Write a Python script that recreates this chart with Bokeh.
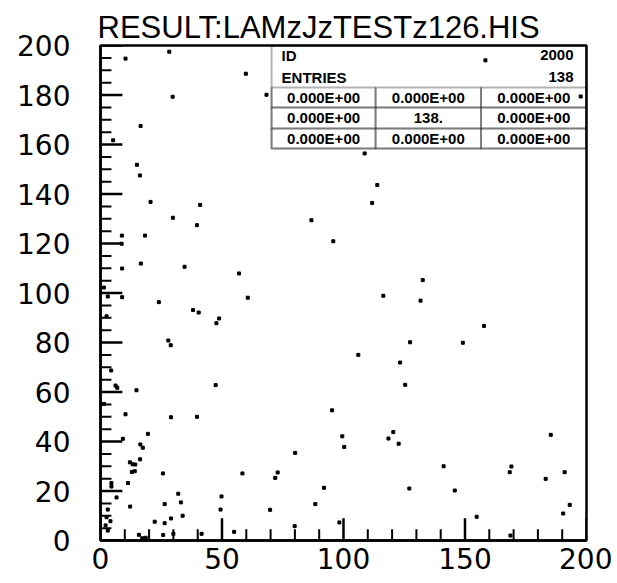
from bokeh.plotting import figure
from bokeh.models import FixedTicker, BoxAnnotation, Label, Range1d
from bokeh.embed import file_html
from bokeh.resources import INLINE

title_text = "RESULT:LAMzJzTESTz126.HIS"

x_vals = [28.3, 10.3, 59.8, 68.3, 29.7, 16.5, 5.2, 15.0, 16.2, 20.6, 41.0, 29.8, 158.4, 197.6,
          108.7, 39.7, 8.8, 18.3, 8.7, 16.6, 8.9, 34.6, 57.0, 1.4, 3.0, 8.9, 60.6, 24.0, 38.1,
          40.4, 48.8, 47.7, 2.5, 27.9, 28.9, 4.4, 6.2, 6.9, 47.4, 14.8, 1.4, 10.3, 29.0, 39.7,
          19.5, 9.2, 16.4, 17.4, 12.1, 13.2, 14.3, 16.3, 12.9, 14.1, 25.7, 58.4, 4.5, 4.5, 11.3,
          6.6, 32.0, 49.8, 33.1, 26.4, 12.2, 49.4, 3.0, 33.8, 29.0, 2.5, 4.1, 22.3, 26.4, 2.1,
          3.0, 69.8, 15.8, 17.2, 18.6, 25.8, 30.0, 41.6, 55.0, 113.9, 111.8, 86.8, 95.8, 132.6,
          116.4, 131.7, 127.4, 106.1, 123.3, 125.4, 95.3, 120.5, 118.5, 99.5, 100.3, 122.7, 80.1,
          72.9, 71.9, 92.0, 127.1, 88.4, 98.3, 79.9, 149.1, 185.3, 141.2, 169.1, 168.4, 183.2,
          191.0, 145.8, 193.1, 190.4, 154.8, 168.7, 157.8]
y_vals = [197.5, 194.7, 188.6, 180.1, 179.3, 167.5, 161.7, 151.8, 147.5, 136.8, 135.6, 130.4, 194.0, 179.4,
          156.4, 127.4, 123.2, 123.2, 119.9, 111.9, 109.9, 110.6, 107.9, 102.2, 98.6, 98.3, 98.1, 96.3, 93.1,
          92.1, 89.7, 87.8, 90.6, 80.8, 78.9, 68.7, 62.6, 61.7, 62.8, 60.7, 55.2, 51.0, 49.8, 50.0,
          43.1, 41.1, 38.8, 37.5, 31.6, 30.8, 30.7, 32.8, 27.7, 28.0, 27.1, 27.1, 23.2, 21.8, 23.2,
          17.4, 18.9, 17.8, 15.4, 14.7, 13.7, 12.5, 12.5, 10.0, 8.9, 9.4, 7.8, 7.6, 7.0, 6.1,
          4.0, 12.4, 2.3, 0.9, 1.1, 2.2, 2.7, 2.7, 3.5, 143.6, 136.4, 129.4, 120.9, 105.2,
          98.9, 96.9, 80.1, 75.0, 71.9, 62.9, 52.6, 43.8, 41.2, 42.1, 37.8, 39.1, 35.4,
          27.5, 25.3, 21.3, 21.0, 14.7, 7.3, 5.8, 79.9, 42.7, 30.0, 29.9, 27.6, 24.9,
          27.6, 20.2, 14.4, 10.9, 9.6, 2.0, 86.7]

x_major = [0, 50, 100, 150, 200]
x_tick_labels = ["0", "50", "100", "150", "200"]
x_minor = [v for v in range(10, 200, 10) if v % 50 != 0]
y_major = [v for v in range(0, 201, 20)]
y_minor = [v for v in range(5, 200, 5) if v % 20 != 0]

stats_id = "2000"
stats_entries = "138"
stats_cells = [["0.000E+00", "0.000E+00", "0.000E+00"],
               ["0.000E+00", "138.", "0.000E+00"],
               ["0.000E+00", "0.000E+00", "0.000E+00"]]

tbl_cols = [70.4, 113.2, 156.6, 200.0]
tbl_rows = [183.0, 175.0, 166.5, 158.4]
tbl_top = 200.0

p = figure(width=612, height=580, x_range=Range1d(0, 200), y_range=Range1d(0, 200),
           output_backend="svg", toolbar_location=None,
           min_border_left=100, min_border_right=26, min_border_top=45, min_border_bottom=40)
p.background_fill_color = "white"
p.border_fill_color = "white"
p.xgrid.visible = False
p.ygrid.visible = False
p.outline_line_color = "black"
p.outline_line_width = 2.5
p.outline_line_alpha = 1.0

p.title.text = title_text
p.title.text_font = "Liberation Sans"
p.title.text_font_size = "31px"
p.title.text_font_style = "normal"
p.title.text_color = "black"
p.title.align = "left"
p.title.offset = -3
p.title.standoff = 2

p.xaxis.ticker = FixedTicker(ticks=x_major)
p.yaxis.ticker = FixedTicker(ticks=y_major)
p.xaxis.major_label_overrides = {v: t for v, t in zip(x_major, x_tick_labels)}
p.axis.axis_line_color = "black"
p.axis.axis_line_width = 2.5
p.axis.major_tick_in = 0
p.axis.major_tick_out = 0
p.axis.minor_tick_in = 0
p.axis.minor_tick_out = 0
p.axis.major_tick_line_color = None
p.axis.minor_tick_line_color = None
p.axis.major_label_text_font = "DejaVu Sans"
p.axis.major_label_text_font_size = "28px"
p.axis.major_label_text_color = "black"
p.yaxis.major_label_standoff = 30
p.xaxis.major_label_standoff = 7

# inward tick marks (PAW style), drawn from the tick lists
maj_len_x, min_len_x = 9.0, 4.5   # tick lengths along y for bottom ticks (data units)
maj_len_y, min_len_y = 9.0, 4.5   # tick lengths along x for left ticks (data units)
p.segment(x0=x_major, y0=[0] * len(x_major), x1=x_major, y1=[maj_len_x] * len(x_major),
          line_color="black", line_width=2.5)
p.segment(x0=x_minor, y0=[0] * len(x_minor), x1=x_minor, y1=[min_len_x] * len(x_minor),
          line_color="black", line_width=2)
p.segment(x0=[0] * len(y_major), y0=y_major, x1=[maj_len_y] * len(y_major), y1=y_major,
          line_color="black", line_width=2.5)
p.segment(x0=[0] * len(y_minor), y0=y_minor, x1=[min_len_y] * len(y_minor), y1=y_minor,
          line_color="black", line_width=2)

p.scatter(x=x_vals, y=y_vals, marker="square", size=3, color="black")

p.add_layout(BoxAnnotation(left=tbl_cols[0], right=tbl_cols[-1], top=tbl_top, bottom=tbl_rows[-1],
                           fill_alpha=0, line_color="black", line_width=2))
for r in range(3):
    for c in range(3):
        p.add_layout(BoxAnnotation(left=tbl_cols[c], right=tbl_cols[c + 1],
                                   top=tbl_rows[r], bottom=tbl_rows[r + 1],
                                   fill_alpha=0, line_color="black", line_width=2))
        p.add_layout(Label(x=(tbl_cols[c] + tbl_cols[c + 1]) / 2, y=(tbl_rows[r] + tbl_rows[r + 1]) / 2,
                           text=stats_cells[r][c], text_align="center", text_baseline="middle",
                           text_font="Liberation Sans", text_font_style="bold", text_font_size="15px",
                           text_color="black"))

lbl_kw = dict(text_baseline="middle", text_font="Liberation Sans", text_font_style="bold",
              text_font_size="15px", text_color="black")
p.add_layout(Label(x=tbl_cols[0], x_offset=10, y=196.0, text="ID", text_align="left", **lbl_kw))
p.add_layout(Label(x=tbl_cols[-1], x_offset=-13, y=196.0, text=stats_id, text_align="right", **lbl_kw))
p.add_layout(Label(x=tbl_cols[0], x_offset=10, y=187.2, text="ENTRIES", text_align="left", **lbl_kw))
p.add_layout(Label(x=tbl_cols[-1], x_offset=-13, y=187.2, text=stats_entries, text_align="right", **lbl_kw))

open("out.html", "w").write(file_html(p, INLINE))
